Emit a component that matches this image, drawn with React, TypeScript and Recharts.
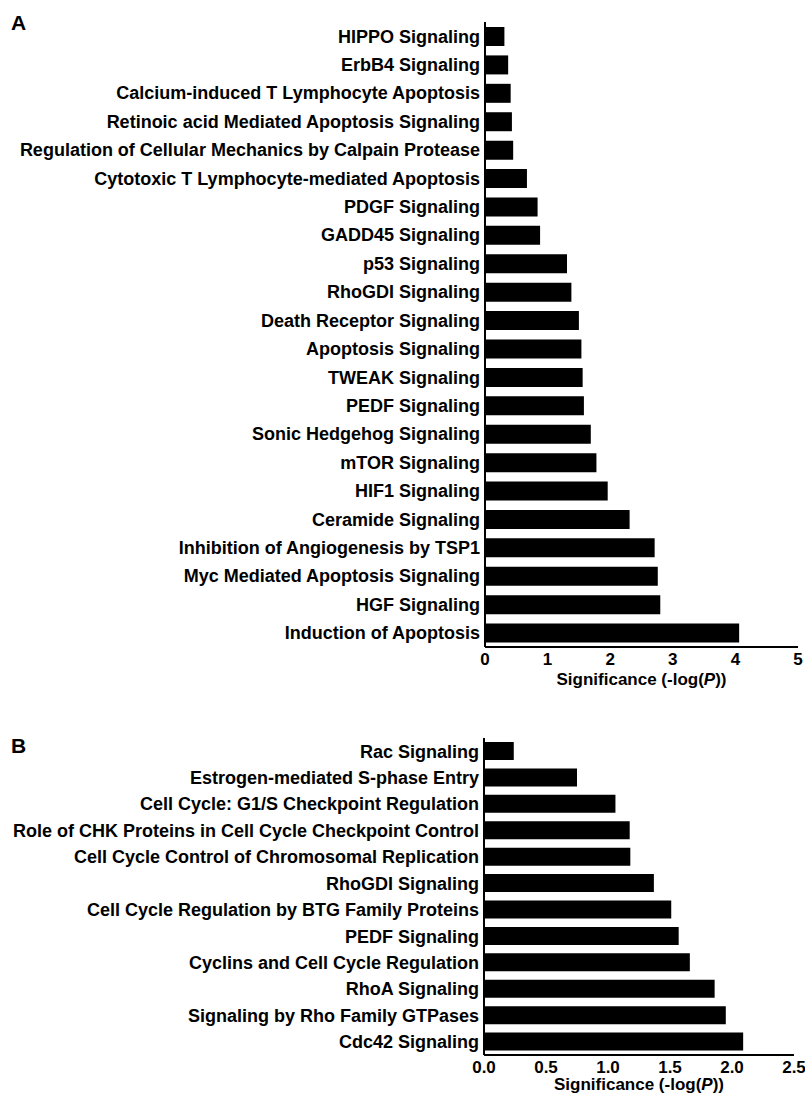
import React from 'react';
import { BarChart, Bar, XAxis, YAxis } from 'recharts';

// ─── Data ────────────────────────────────────────────────────────────────────

const pathwaysA = [
  'HIPPO Signaling',
  'ErbB4 Signaling',
  'Calcium-induced T Lymphocyte Apoptosis',
  'Retinoic acid Mediated Apoptosis Signaling',
  'Regulation of Cellular Mechanics by Calpain Protease',
  'Cytotoxic T Lymphocyte-mediated Apoptosis',
  'PDGF Signaling',
  'GADD45 Signaling',
  'p53 Signaling',
  'RhoGDI Signaling',
  'Death Receptor Signaling',
  'Apoptosis Signaling',
  'TWEAK Signaling',
  'PEDF Signaling',
  'Sonic Hedgehog Signaling',
  'mTOR Signaling',
  'HIF1 Signaling',
  'Ceramide Signaling',
  'Inhibition of Angiogenesis by TSP1',
  'Myc Mediated Apoptosis Signaling',
  'HGF Signaling',
  'Induction of Apoptosis',
];
const significanceA = [
  0.31, 0.37, 0.41, 0.43, 0.45, 0.67, 0.84, 0.88, 1.31, 1.38, 1.5, 1.54, 1.56,
  1.58, 1.69, 1.78, 1.96, 2.31, 2.71, 2.76, 2.8, 4.06,
];
const ticksA = [0, 1, 2, 3, 4, 5];

const pathwaysB = [
  'Rac Signaling',
  'Estrogen-mediated S-phase Entry',
  'Cell Cycle: G1/S Checkpoint Regulation',
  'Role of CHK Proteins in Cell Cycle Checkpoint Control',
  'Cell Cycle Control of Chromosomal Replication',
  'RhoGDI Signaling',
  'Cell Cycle Regulation by BTG Family Proteins',
  'PEDF Signaling',
  'Cyclins and Cell Cycle Regulation',
  'RhoA Signaling',
  'Signaling by Rho Family GTPases',
  'Cdc42 Signaling',
];
const significanceB = [
  0.24, 0.75, 1.06, 1.175, 1.18, 1.37, 1.51, 1.57, 1.66, 1.86, 1.95, 2.09,
];
const ticksB = [0, 0.5, 1, 1.5, 2, 2.5];

// ─── Styling ─────────────────────────────────────────────────────────────────

const FONT = '"Liberation Sans", Arial, Helvetica, sans-serif';
const INK = '#000000';

function AxisTitle(props: any) {
  const vb = props.viewBox || {};
  const cx = (vb.x || 0) + (vb.width || 0) / 2;
  return (
    <text
      x={cx}
      y={(vb.y || 0) + props.offsetY}
      textAnchor="middle"
      fontFamily={FONT}
      fontWeight="bold"
      fontSize={17}
      fill={INK}
    >
      Significance (-log(<tspan fontStyle="italic">P</tspan>))
    </text>
  );
}

interface PanelProps {
  names: string[];
  values: number[];
  ticks: number[];
  max: number;
  width: number;
  height: number;
  margin: { top: number; right: number; bottom: number; left: number };
  yWidth: number;
  xHeight: number;
  barSize: number;
  titleOffset: number;
  decimals: number;
}

function Panel(p: PanelProps) {
  const rows = p.names.map((name, i) => ({ name, value: p.values[i] }));
  return (
    <BarChart
      width={p.width}
      height={p.height}
      data={rows}
      layout="vertical"
      margin={p.margin}
      barSize={p.barSize}
    >
      <XAxis
        type="number"
        domain={[0, p.max]}
        ticks={p.ticks}
        interval={0}
        axisLine={{ stroke: INK, strokeWidth: 2 }}
        tickLine={false}
        tickSize={0}
        tickMargin={6}
        height={p.xHeight}
        tickFormatter={(v: number) => v.toFixed(p.decimals)}
        tick={{ fill: INK, fontSize: 17, fontWeight: 'bold', fontFamily: FONT }}
        label={{ content: (lp: any) => <AxisTitle {...lp} offsetY={p.titleOffset} /> }}
      />
      <YAxis
        type="category"
        dataKey="name"
        width={p.yWidth}
        interval={0}
        axisLine={{ stroke: INK, strokeWidth: 2 }}
        tickLine={false}
        tickSize={0}
        tickMargin={5}
        tick={{ fill: INK, fontSize: 18, fontWeight: 'bold', fontFamily: FONT }}
      />
      <Bar dataKey="value" fill={INK} isAnimationActive={false} />
    </BarChart>
  );
}

const letterStyle: React.CSSProperties = {
  position: 'absolute',
  left: 11,
  fontFamily: FONT,
  fontWeight: 'bold',
  fontSize: 21,
  lineHeight: '21px',
  color: INK,
};

export default function App() {
  return (
    <div
      style={{
        position: 'absolute',
        left: 0,
        top: 0,
        width: 805,
        height: 1104,
        background: '#ffffff',
      }}
    >
      <div style={{ ...letterStyle, top: 12 }}>A</div>
      <div style={{ position: 'absolute', left: 0, top: 0 }}>
        <Panel
          names={pathwaysA}
          values={significanceA}
          ticks={ticksA}
          max={5}
          width={805}
          height={700}
          margin={{ top: 22, right: 7, bottom: 0, left: 0 }}
          yWidth={485}
          xHeight={53}
          barSize={19}
          titleOffset={38}
          decimals={0}
        />
      </div>

      <div style={{ ...letterStyle, top: 735 }}>B</div>
      <div style={{ position: 'absolute', left: 0, top: 700 }}>
        <Panel
          names={pathwaysB}
          values={significanceB}
          ticks={ticksB}
          max={2.5}
          width={805}
          height={404}
          margin={{ top: 38, right: 11, bottom: 0, left: 0 }}
          yWidth={484}
          xHeight={49}
          barSize={18}
          titleOffset={35}
          decimals={1}
        />
      </div>
    </div>
  );
}
